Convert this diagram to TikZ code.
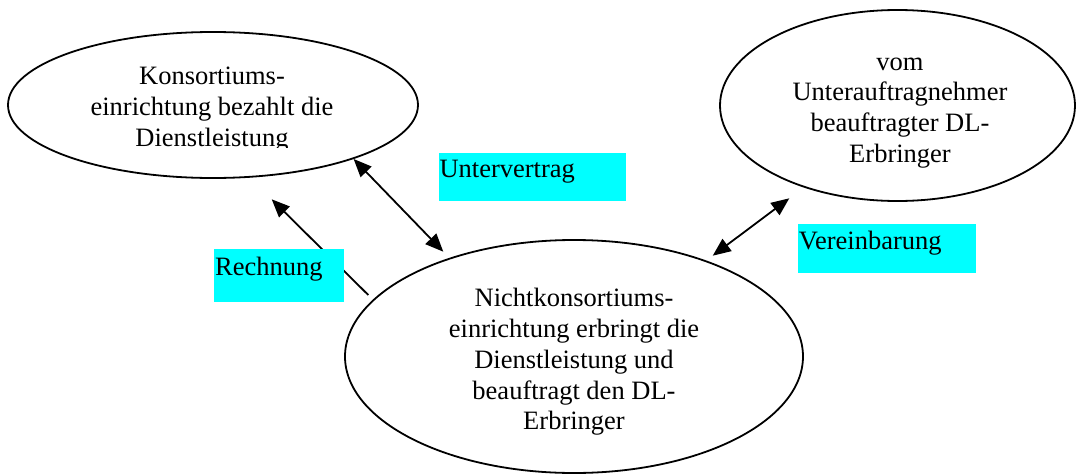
\documentclass[tikz,border=0pt]{standalone}
\usepackage{fontspec}
\setmainfont{Liberation Serif}
\usetikzlibrary{arrows.meta,shapes.geometric}
\definecolor{aquabox}{RGB}{0,255,255}
\begin{document}
\begin{tikzpicture}[x=1pt,y=-1pt,
  ell/.style={draw,ellipse,line width=1.8pt,inner sep=0pt},
  txt/.style={align=center,inner sep=0pt,font=\fontsize{26.5}{30.75}\selectfont},
  lbl/.style={fill=aquabox,anchor=north west,inner xsep=1pt,inner ysep=0pt,align=left,font=\fontsize{26.5}{30.75}\selectfont},
  arr/.style={-{Triangle[length=18pt,width=15pt]},line width=1.8pt},
  dbl/.style={{Triangle[length=18pt,width=15pt]}-{Triangle[length=18pt,width=15pt]},line width=1.8pt}]
\useasboundingbox (0,0) rectangle (1077,474);
% ellipses
\node[ell,minimum width=410pt,minimum height=146pt] (k) at (213,105) {};
\node[ell,minimum width=355pt,minimum height=191pt] (r) at (897.5,105.5) {};
\node[ell,minimum width=458pt,minimum height=233pt] (n) at (574,356.5) {};
% texts
\begin{scope}
\clip (0,0) rectangle (430,147);
\node[txt] (kt) at (212,109.2) {\strut Konsortiums-\\einrichtung bezahlt die\\Dienstleistung\strut};
\end{scope}
\node[txt] (rt) at (900,110) {\strut vom\\Unterauftragnehmer\\beauftragter DL-\\Erbringer\strut};
\node[txt] (nt) at (574,362.3) {\strut Nichtkonsortiums-\\einrichtung erbringt die\\Dienstleistung und\\beauftragt den DL-\\Erbringer\strut};
% connectors
\coordinate (rq1) at (368.3,295);
\coordinate (rq2) at (271.7,199.3);
\draw[arr] (rq1) -- (rq2);
\coordinate (ut2) at (443.3,251.7);
\draw[dbl] (k.-21.4) -- (ut2);
\coordinate (vb1) at (712.7,255.7);
\coordinate (vb2) at (789.3,198.3);
\draw[dbl] (vb1) -- (vb2);
% labels
\node[lbl,text width=185.7pt,text height=25pt,text depth=23.4pt] (ul) at (438.3,152.3) {Untervertrag};
\node[lbl,text width=128pt,text height=26pt,text depth=26.7pt] (rl) at (214,249) {Rechnung};
\node[lbl,text width=176.3pt,text height=25.7pt,text depth=23.7pt] (vl) at (797.7,223.3) {Vereinbarung};
\end{tikzpicture}
\end{document}
